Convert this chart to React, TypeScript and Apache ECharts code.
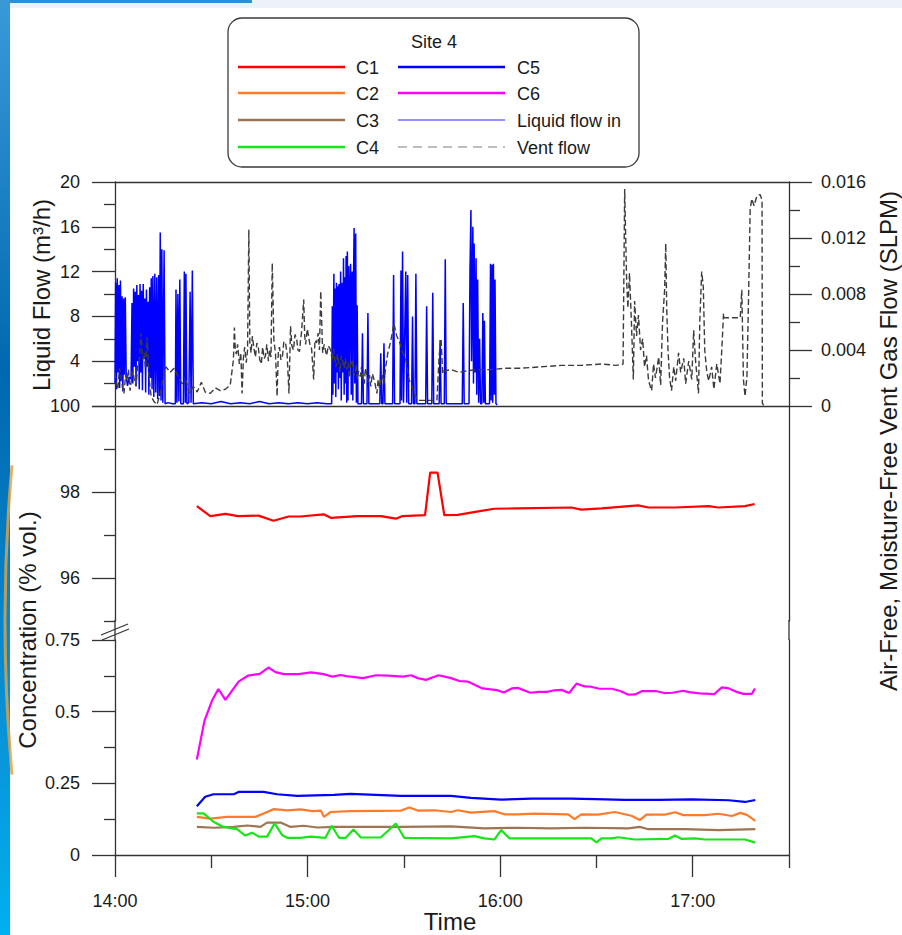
import React, { useEffect, useRef } from 'react';
import * as echarts from 'echarts';

// ---------- axis ticks / labels (time in minutes after 14:00) ----------
const hourTicks = [0, 60, 120, 180];
const hourLabels = ['14:00', '15:00', '16:00', '17:00'];
const halfHourTicks = [30, 90, 150, 210];
const upperConcMajor = [96, 98, 100];
const upperConcMinor = [95, 97, 99];

// ---------- top panel: liquid flow in (m3/h) ----------
const liquidTime = [
  0.0, 0.2, 0.45, 0.7, 0.95, 1.2, 1.45, 1.7, 1.95, 2.2, 2.45, 2.7, 2.95, 3.2, 3.5, 3.9, 4.4, 5.0, 5.3, 5.55,
  5.8, 6.05, 6.3, 6.55, 6.8, 7.05, 7.3, 7.55, 7.8, 8.05, 8.3, 8.55, 8.8, 9.05, 9.3, 9.55, 9.8, 10.05, 10.3, 10.55,
  10.8, 11.05, 11.3, 11.55, 11.8, 12.1, 12.4, 12.7, 13.0, 13.3, 13.6, 13.85, 14.1, 14.35, 14.6, 14.9, 15.3, 15.6,
  16.5, 18.0, 18.8, 19.0, 19.3, 19.6, 19.9, 20.2, 20.5, 21.3, 21.6, 21.9, 22.1, 22.4, 23.0, 23.4, 23.7, 24.1, 24.4,
  27.0, 30.0, 33.0, 36.0, 39.0, 42.0, 45.0, 48.0, 51.0, 54.0, 57.0, 60.0, 63.0, 66.0, 67.5,
  67.7, 67.9, 68.2, 68.4, 68.6, 68.8, 69.0, 69.2, 69.4, 69.6, 69.8, 70.0, 70.3, 70.5, 70.8, 71.0, 71.2, 71.4, 71.6,
  71.8, 72.0, 72.2, 72.4, 72.6, 72.8, 73.0, 73.2, 73.4, 73.6, 73.9, 74.1, 74.3, 74.5, 74.7, 75.0, 75.2, 75.45, 75.7,
  76.8, 77.1, 77.4, 78.5, 78.8, 79.1, 82.5, 82.8, 83.1, 83.5, 83.8, 84.1, 86.5, 86.8, 87.1, 88.8, 89.1, 89.3, 89.6,
  89.9, 90.6, 90.9, 91.2, 91.5, 92.4, 92.7, 93.0, 93.45, 93.75, 94.05, 96.8, 97.1, 97.4, 98.7, 99.0, 99.3, 101.0,
  101.3, 101.6, 102.6, 102.9, 103.2, 108.2, 108.5, 108.8, 110.3, 110.6, 110.9, 111.1, 111.5, 111.7, 111.9, 112.2,
  112.5, 112.7, 113.0, 113.3, 113.6, 113.9, 114.3, 114.6, 114.9, 115.1, 115.4, 116.7, 117.0, 117.2, 117.5, 117.7,
  117.9, 118.2, 118.4, 118.7, 119.1,
];
const liquidFlow = [
  2.0, 11.0, 1.5, 11.4, 3.0, 10.8, 1.6, 11.2, 2.2, 9.8, 1.3, 9.6, 2.8, 9.7, 2.6, 1.8, 2.6, 2.4, 9.2, 2.0,
  10.5, 3.5, 10.2, 1.8, 10.8, 4.0, 9.9, 1.5, 10.9, 3.0, 10.3, 1.4, 10.9, 4.2, 9.6, 1.2, 10.4, 3.5, 9.3, 1.0,
  10.6, 2.5, 11.4, 1.5, 11.6, 0.8, 11.8, 1.2, 11.5, 0.6, 11.7, 0.9, 15.5, 0.5, 14.0, 0.3, 13.9, 0.2,
  0.3, 0.2, 0.2, 10.4, 0.3, 10.0, 0.4, 11.3, 0.2, 0.2, 12.0, 0.3, 11.8, 0.2, 0.3, 10.2, 0.3, 12.1, 0.2,
  0.3, 0.2, 0.4, 0.2, 0.3, 0.2, 0.4, 0.2, 0.3, 0.2, 0.3, 0.2, 0.3, 0.2, 0.2,
  8.9, 1.0, 11.8, 2.0, 10.5, 0.8, 11.0, 3.0, 10.7, 1.5, 10.9, 2.5, 12.0, 0.5, 11.0, 3.0, 13.2, 1.0, 11.5,
  2.0, 13.4, 0.3, 13.8, 0.5, 12.5, 3.0, 10.5, 12.7, 1.0, 12.0, 0.5, 11.0, 15.9, 2.0, 15.4, 0.3, 9.0, 0.2,
  0.2, 6.5, 0.2, 0.2, 8.3, 0.2, 0.2, 4.7, 0.2, 0.2, 5.6, 0.2, 0.2, 11.7, 0.2, 0.2, 12.1, 0.5, 13.8,
  0.3, 12.0, 0.3, 11.7, 0.2, 0.2, 8.0, 0.2, 0.2, 11.8, 0.2, 0.2, 8.9, 0.2, 0.2, 10.1, 0.2, 0.2,
  5.9, 0.2, 0.2, 13.1, 0.2, 0.2, 9.2, 0.2, 0.2, 12.0, 17.5, 4.0, 16.0, 2.0, 14.5, 3.0,
  13.2, 1.0, 11.3, 0.3, 6.0, 0.2, 0.2, 8.3, 0.3, 7.6, 0.2, 0.2, 12.7, 0.5, 12.6, 0.3,
  12.7, 1.0, 11.3, 0.2, 0.1,
];

// ---------- top panel: vent gas flow (SLPM) ----------
const ventTime = [
  0.0, 0.45, 0.9, 1.4, 1.9, 2.35, 2.8, 3.3, 3.75, 4.2, 4.7, 5.15, 5.6, 6.1, 6.6, 7.0, 7.5, 8.1, 8.6, 9.1,
  9.5, 10.0, 10.6, 11.25, 12.2, 13.1, 14.1, 15.0, 15.9, 17.2, 18.4, 19.7, 20.9, 22.2, 23.1, 24.4, 25.6, 26.9, 28.1, 29.7,
  31.25, 32.8, 34.4, 35.9,
  36.9, 37.2, 37.5, 37.8, 38.2, 38.75, 39.2, 39.6, 40.0, 40.4, 40.9, 41.3, 41.7, 42.0, 42.4, 42.8, 43.3, 43.75, 44.2, 44.7,
  45.1, 45.6, 46.0, 46.5, 46.9, 47.3, 47.8, 48.2, 48.6, 49.0, 49.5, 50.0, 50.5, 50.9, 51.25, 51.7, 52.2, 52.6, 53.1, 53.6,
  54.2, 54.7, 55.1, 55.6, 56.1, 56.6, 57.0, 57.5, 57.8, 58.1, 58.8, 59.1, 59.4, 59.9, 60.3, 60.8, 61.25, 61.9, 62.3, 62.8,
  63.3, 63.7, 64.1, 64.7, 65.2, 65.9, 66.5, 67.2,
  67.7, 68.1, 68.4, 68.9, 69.3, 69.7, 70.1, 70.5, 70.9, 71.4, 71.8, 72.2, 72.7, 73.0, 73.4, 73.9, 74.3, 74.7, 75.2, 75.5,
  75.9, 76.4, 76.8, 77.2, 77.7, 78.0, 78.4, 78.9, 79.3, 79.7, 80.2, 80.6, 81.1, 81.6, 82.0, 82.4, 82.8, 83.3, 83.75, 84.3,
  85.0, 85.9, 86.9, 87.8, 88.75, 89.7, 90.6, 91.6, 92.5, 93.4, 94.4, 97.2, 100.3, 101.0, 101.6,
  102.1, 102.5, 104.7, 107.2, 109.4, 112.5, 117.2, 121.9, 126.6, 132.8, 139.1, 145.3, 151.6, 156.25, 158.3, 158.8, 159.4, 159.8, 160.3, 160.9,
  161.5, 161.9, 162.5, 163.1, 163.75, 164.4, 165.0, 165.6, 166.25, 167.2, 167.8, 168.4, 169.4, 170.0, 170.6, 171.25, 171.6, 171.9, 172.3, 172.8,
  173.4, 174.1, 174.7, 175.6, 176.25, 177.2, 177.8, 178.75, 179.7, 180.3, 180.9, 181.8, 182.2, 182.8, 183.3, 183.75, 184.4, 185.0, 185.9, 186.6,
  187.5, 188.5, 189.1, 189.6, 189.8, 194.8, 195.3, 195.8, 196.3, 196.9, 197.4, 197.9, 198.4, 199.1, 200.0, 201.0, 201.6, 201.7, 202.2,
];
const ventFlow = [
  0.0024, 0.0016, 0.0012, 0.0027, 0.0021, 0.0013, 0.0009, 0.0022, 0.0018, 0.0026, 0.0011, 0.0019, 0.0025, 0.0017, 0.0014, 0.0028, 0.003, 0.0052, 0.0033, 0.0038,
  0.0027, 0.0049, 0.002, 0.0007, 0.0003, 0.0001, 0.0009, 0.0021, 0.0028, 0.0024, 0.0027, 0.0021, 0.0016, 0.0018, 0.0009, 0.0014, 0.001, 0.0017, 0.001, 0.0009,
  0.0013, 0.0011, 0.0012, 0.0015,
  0.0033, 0.0056, 0.004, 0.0037, 0.0044, 0.003, 0.0038, 0.0009, 0.0034, 0.0042, 0.0031, 0.004, 0.0126, 0.0046, 0.0038, 0.005, 0.0041, 0.0035, 0.0045, 0.0041,
  0.0033, 0.003, 0.0042, 0.0034, 0.0036, 0.0044, 0.0032, 0.004, 0.0035, 0.0102, 0.0047, 0.0038, 0.0007, 0.004, 0.0042, 0.0033, 0.0036, 0.0046, 0.0045, 0.0038,
  0.0009, 0.0057, 0.0043, 0.004, 0.0051, 0.0048, 0.004, 0.0039, 0.0047, 0.0052, 0.0076, 0.005, 0.0044, 0.0055, 0.005, 0.0043, 0.0041, 0.0019, 0.0047, 0.0045,
  0.0052, 0.004, 0.0082, 0.0038, 0.0044, 0.0036, 0.0043, 0.004,
  0.0032, 0.0041, 0.0035, 0.0028, 0.0037, 0.0031, 0.0024, 0.0036, 0.0033, 0.0027, 0.0034, 0.0026, 0.0031, 0.002, 0.0029, 0.0033, 0.0024, 0.0022, 0.003, 0.0019,
  0.0025, 0.0021, 0.0028, 0.0019, 0.0016, 0.0027, 0.0023, 0.0017, 0.0022, 0.0014, 0.0023, 0.002, 0.0015, 0.0009, 0.0019, 0.0013, 0.0018, 0.0022, 0.0016, 0.0027,
  0.0038, 0.0046, 0.0059, 0.005, 0.0045, 0.0038, 0.0033, 0.0019, 0.0014, 0.0008, 0.0004, 0.0004, 0.0004, 0.0036, 0.0048,
  0.0023, 0.0025, 0.0026, 0.0024, 0.0025, 0.0026, 0.0026, 0.0027, 0.0027, 0.0028, 0.0029, 0.0029, 0.003, 0.0029, 0.003, 0.0155, 0.009, 0.007, 0.0095, 0.006,
  0.0019, 0.0075, 0.005, 0.0065, 0.004, 0.0048, 0.0028, 0.0036, 0.0018, 0.0011, 0.003, 0.002, 0.0035, 0.0015, 0.006, 0.0083, 0.0116, 0.007, 0.004, 0.002,
  0.0011, 0.0028, 0.0018, 0.0038, 0.0024, 0.0034, 0.0016, 0.0032, 0.0019, 0.0054, 0.0032, 0.0009, 0.006, 0.0096, 0.0085, 0.004, 0.0024, 0.0018, 0.0028, 0.0012,
  0.003, 0.0016, 0.0042, 0.0066, 0.0063, 0.0063, 0.0083, 0.0019, 0.0007, 0.0021, 0.0078, 0.014, 0.0148, 0.0143, 0.015, 0.0151, 0.0147, 0.0002, 0.0,
];

// ---------- bottom panel: concentrations (% vol.) ----------
const c1Time = [25.5, 29.7, 34.4, 38.4, 44.7, 49.4, 54.1, 57.8, 65.0, 67.2, 75.6, 82.8, 87.5, 89.6, 96.6, 98.2, 100.5, 102.6, 106.8, 114.1, 118.2, 125.5, 142.2, 145.3, 151.6, 163.0, 166.2, 174.5, 184.9, 188.0, 196.3, 199.3];
const c1Values = [97.67, 97.44, 97.49, 97.44, 97.45, 97.33, 97.43, 97.43, 97.48, 97.4, 97.44, 97.44, 97.38, 97.44, 97.46, 98.45, 98.45, 97.46, 97.47, 97.56, 97.61, 97.62, 97.64, 97.59, 97.62, 97.69, 97.64, 97.64, 97.67, 97.64, 97.67, 97.72];

const c2Time = [25.5, 29.7, 34.9, 43.75, 46.3, 49.5, 53.7, 57.8, 61.5, 64.1, 65.1, 67.2, 73.4, 89.1, 91.7, 94.3, 99.5, 104.7, 106.8, 110.9, 118.2, 121.3, 125.5, 130.7, 141.2, 143.2, 145.3, 150.5, 155.7, 160.9, 163.5, 165.6, 171.3, 174.5, 177.1, 183.8, 188.0, 192.2, 194.8, 196.9, 199.5];
const c2Values = [0.133, 0.127, 0.133, 0.133, 0.145, 0.16, 0.156, 0.159, 0.153, 0.155, 0.133, 0.15, 0.153, 0.155, 0.166, 0.155, 0.156, 0.15, 0.156, 0.148, 0.153, 0.142, 0.142, 0.144, 0.142, 0.125, 0.142, 0.141, 0.15, 0.137, 0.122, 0.141, 0.141, 0.149, 0.139, 0.139, 0.144, 0.136, 0.147, 0.14, 0.119];

const c3Time = [25.5, 30.7, 37.0, 41.2, 45.3, 47.4, 51.6, 54.7, 58.8, 63.0, 68.2, 89.1, 104.7, 115.1, 125.5, 135.9, 146.3, 159.9, 163.5, 166.2, 177.6, 188.0, 199.5];
const c3Values = [0.098, 0.095, 0.098, 0.103, 0.098, 0.113, 0.113, 0.098, 0.102, 0.096, 0.098, 0.098, 0.1, 0.093, 0.095, 0.093, 0.095, 0.093, 0.098, 0.09, 0.09, 0.087, 0.09];

const c4Time = [25.5, 27.6, 30.7, 33.8, 38.0, 40.6, 42.7, 44.8, 47.4, 49.7, 52.1, 53.7, 57.8, 60.9, 65.6, 67.5, 69.8, 71.9, 74.3, 76.6, 82.8, 87.5, 90.1, 104.7, 112.0, 115.1, 118.2, 120.3, 122.9, 135.9, 148.4, 150.0, 151.6, 154.7, 156.8, 162.0, 172.4, 174.5, 176.6, 180.7, 183.8, 196.3, 199.5];
const c4Values = [0.145, 0.145, 0.116, 0.098, 0.09, 0.068, 0.078, 0.064, 0.064, 0.11, 0.069, 0.06, 0.06, 0.064, 0.06, 0.102, 0.06, 0.06, 0.089, 0.061, 0.061, 0.11, 0.06, 0.058, 0.066, 0.058, 0.054, 0.087, 0.058, 0.058, 0.058, 0.044, 0.058, 0.058, 0.062, 0.054, 0.056, 0.068, 0.056, 0.058, 0.054, 0.054, 0.043];

const c5Time = [25.5, 28.1, 30.7, 37.0, 38.5, 46.3, 50.5, 56.8, 68.2, 73.4, 89.1, 104.7, 110.9, 120.3, 129.7, 142.2, 149.5, 158.8, 169.3, 179.7, 191.2, 196.3, 199.5];
const c5Values = [0.17, 0.203, 0.212, 0.212, 0.22, 0.22, 0.212, 0.206, 0.21, 0.213, 0.206, 0.206, 0.199, 0.193, 0.197, 0.197, 0.195, 0.192, 0.192, 0.194, 0.191, 0.185, 0.192];

const c6Time = [25.5, 27.9, 30.2, 32.2, 34.4, 38.5, 41.5, 45.1, 47.8, 50.0, 52.6, 57.2, 61.1, 65.0, 67.8, 70.2, 72.1, 77.3, 81.3, 85.2, 89.7, 92.3, 94.3, 96.9, 100.8, 104.7, 107.3, 109.9, 114.5, 119.0, 121.2, 123.6, 125.5, 129.4, 132.0, 134.6, 136.6, 139.2, 141.5, 143.8, 146.3, 148.3, 150.9, 154.8, 157.4, 160.0, 162.0, 164.3, 168.5, 171.1, 173.7, 177.0, 178.9, 182.2, 186.7, 189.1, 191.3, 193.9, 195.8, 198.4, 199.4];
const c6Values = [0.333, 0.469, 0.538, 0.579, 0.541, 0.605, 0.626, 0.632, 0.654, 0.638, 0.631, 0.631, 0.637, 0.631, 0.622, 0.628, 0.624, 0.617, 0.627, 0.626, 0.622, 0.627, 0.617, 0.611, 0.627, 0.617, 0.607, 0.605, 0.581, 0.575, 0.567, 0.581, 0.583, 0.566, 0.569, 0.569, 0.574, 0.576, 0.565, 0.598, 0.588, 0.587, 0.58, 0.58, 0.572, 0.559, 0.56, 0.572, 0.572, 0.565, 0.566, 0.573, 0.568, 0.564, 0.561, 0.585, 0.581, 0.568, 0.562, 0.562, 0.581];

// ---------- styling ----------
const FONT = "'Liberation Sans', Arial, Helvetica, sans-serif";
const TXT = '#1a1a1a';
const AX = { color: '#333', width: 1.3 };
const COLORS = {
  C1: '#ff0000', C2: '#ff7b2a', C3: '#9e7452', C4: '#16e616', C5: '#0000ff', C6: '#ff00ff',
  liquid: '#0000ff', vent: '#3c3c3c',
};

const pairs = (t: number[], v: number[]) => t.map((x, i) => [x, v[i]]);

const labelStyle = { fontSize: 18, color: TXT, fontFamily: FONT };
const noSplit = { show: false };

function lineSeries(name: string, xi: number, yi: number, data: number[][], color: string, width: number, extra: any = {}) {
  return {
    name, type: 'line', xAxisIndex: xi, yAxisIndex: yi, data,
    showSymbol: false, symbol: 'none', clip: true,
    lineStyle: { color, width, ...extra }, itemStyle: { color },
    emphasis: { disabled: true },
  };
}

function buildOption(): any {
  const legendRows = [67, 93, 120, 147];
  const legendLeft = [
    { name: 'C1', color: COLORS.C1, w: 2.6 },
    { name: 'C2', color: COLORS.C2, w: 2.6 },
    { name: 'C3', color: COLORS.C3, w: 2.6 },
    { name: 'C4', color: COLORS.C4, w: 2.6 },
  ];
  const legendRight = [
    { name: 'C5', color: COLORS.C5, w: 2.6 },
    { name: 'C6', color: COLORS.C6, w: 2.6 },
    { name: 'Liquid flow in', color: '#6b6bff', w: 1.3 },
    { name: 'Vent flow', color: '#bdbdbd', w: 2, dash: [9, 6] },
  ];
  const textStyle = (text: string, size: number, align = 'left') => ({
    text, font: `${size}px ${FONT}`, fill: TXT, align, verticalAlign: 'middle',
    textAlign: align, textVerticalAlign: 'middle',
  });
  const legendEls: any[] = [];
  legendLeft.forEach((it, i) => {
    legendEls.push({ type: 'line', shape: { x1: 238, y1: legendRows[i], x2: 345, y2: legendRows[i] }, style: { stroke: it.color, lineWidth: it.w } });
    legendEls.push({ type: 'text', x: 356, y: legendRows[i] + 1, style: textStyle(it.name, 18) });
  });
  legendRight.forEach((it: any, i) => {
    legendEls.push({ type: 'line', shape: { x1: 398, y1: legendRows[i], x2: 505, y2: legendRows[i] }, style: { stroke: it.color, lineWidth: it.w, lineDash: it.dash } });
    legendEls.push({ type: 'text', x: 517, y: legendRows[i] + 1, style: textStyle(it.name, 18) });
  });

  const graphic: any[] = [
    // slide decorations around the figure
    { type: 'rect', silent: true, shape: { x: 0, y: 0, width: 902, height: 8 }, style: { fill: '#edf2f8' } },
    { type: 'rect', silent: true, shape: { x: 0, y: 0, width: 252, height: 3 }, style: { fill: '#2b8fd6' } },
    {
      type: 'rect', silent: true, shape: { x: 0, y: 0, width: 10, height: 935 },
      style: {
        fill: new echarts.graphic.LinearGradient(0, 0, 0, 1, [
          { offset: 0, color: '#3a9ad8' }, { offset: 0.4, color: '#0068b0' },
          { offset: 0.75, color: '#0a8fd4' }, { offset: 1, color: '#00b0ef' },
        ]),
      },
    },
    { type: 'arc', silent: true, shape: { cx: 1725, cy: 620, r: 1720, startAngle: Math.PI - 0.09, endAngle: Math.PI + 0.09 }, style: { stroke: '#d9a24a', lineWidth: 3, fill: null, opacity: 0.85 } },
    // legend box
    { type: 'rect', shape: { x: 228, y: 18, width: 411, height: 149, r: 14 }, style: { fill: '#fff', stroke: '#3a3a3a', lineWidth: 1.3 } },
    { type: 'text', x: 434, y: 42, style: textStyle('Site 4', 18, 'center') },
    ...legendEls,
    // axis titles
    { type: 'text', x: 41, y: 295, rotation: Math.PI / 2, style: textStyle('Liquid Flow (m³/h)', 24, 'center') },
    { type: 'text', x: 27, y: 630, rotation: Math.PI / 2, style: textStyle('Concentration (% vol.)', 24, 'center') },
    { type: 'text', x: 888, y: 441, rotation: Math.PI / 2, style: textStyle('Air-Free, Moisture-Free Vent Gas Flow (SLPM)', 24, 'center') },
    { type: 'text', x: 450, y: 921, style: textStyle('Time', 24, 'center') },
    // axis lines across the break
    { type: 'line', shape: { x1: 115, y1: 620, x2: 115, y2: 640 }, style: { stroke: AX.color, lineWidth: AX.width } },
    { type: 'line', shape: { x1: 789, y1: 620, x2: 789, y2: 640 }, style: { stroke: AX.color, lineWidth: AX.width } },
    // break marks
    { type: 'line', shape: { x1: 101, y1: 635, x2: 128, y2: 624 }, style: { stroke: AX.color, lineWidth: 1.2 } },
    { type: 'line', shape: { x1: 102, y1: 640, x2: 129, y2: 629 }, style: { stroke: AX.color, lineWidth: 1.2 } },
  ];

  const axisLine = { show: true, onZero: false, lineStyle: AX };
  const xBase = { type: 'value', min: 0, max: 210, splitLine: noSplit, minorSplitLine: noSplit };
  const yBase = { type: 'value', splitLine: noSplit, minorSplitLine: noSplit };

  return {
    animation: false,
    backgroundColor: '#ffffff',
    grid: [
      { left: 115, top: 182, width: 674, height: 224, containLabel: false },
      { left: 115, top: 406, width: 674, height: 215, containLabel: false },
      { left: 115, top: 640, width: 674, height: 215, containLabel: false },
    ],
    xAxis: [
      { ...xBase, gridIndex: 0, position: 'bottom', axisLine, axisTick: { show: false }, axisLabel: { show: false } },
      { ...xBase, gridIndex: 0, position: 'top', axisLine, axisTick: { show: false }, axisLabel: { show: false } },
      { ...xBase, gridIndex: 1, show: false },
      {
        ...xBase, gridIndex: 2, position: 'bottom', axisLine,
        axisTick: { show: true, customValues: hourTicks, length: 22, lineStyle: AX },
        axisLabel: {
          show: true, customValues: hourTicks, margin: 37, ...labelStyle,
          formatter: (v: number) => hourLabels[hourTicks.indexOf(v)] ?? '',
        },
      },
      {
        ...xBase, gridIndex: 2, position: 'bottom', axisLine: { show: false, onZero: false },
        axisTick: { show: true, customValues: halfHourTicks, length: 13, lineStyle: AX },
        axisLabel: { show: false },
      },
    ],
    yAxis: [
      {
        ...yBase, gridIndex: 0, position: 'left', min: 0, max: 20, interval: 4, axisLine,
        axisTick: { show: true, length: 23, lineStyle: AX },
        minorTick: { show: true, splitNumber: 2, length: 11, lineStyle: AX },
        axisLabel: { margin: 35, ...labelStyle, formatter: (v: number) => (v === 0 ? '' : String(v)) },
      },
      {
        ...yBase, gridIndex: 0, position: 'right', min: 0, max: 0.016, interval: 0.004, axisLine,
        axisTick: { show: true, length: 23, lineStyle: AX },
        minorTick: { show: true, splitNumber: 2, length: 11, lineStyle: AX },
        axisLabel: { margin: 32, ...labelStyle },
      },
      {
        ...yBase, gridIndex: 1, position: 'left', min: 95, max: 100, axisLine,
        axisTick: { show: true, customValues: upperConcMajor, length: 23, lineStyle: AX },
        axisLabel: { show: true, customValues: upperConcMajor, margin: 35, ...labelStyle },
      },
      {
        ...yBase, gridIndex: 1, position: 'left', min: 95, max: 100, axisLine: { show: false, onZero: false },
        axisTick: { show: true, customValues: upperConcMinor, length: 11, lineStyle: AX },
        axisLabel: { show: false },
      },
      {
        ...yBase, gridIndex: 1, position: 'right', min: 95, max: 100, axisLine,
        axisTick: { show: false }, axisLabel: { show: false },
      },
      {
        ...yBase, gridIndex: 2, position: 'left', min: 0, max: 0.75, interval: 0.25, axisLine,
        axisTick: { show: true, length: 23, lineStyle: AX },
        minorTick: { show: true, splitNumber: 2, length: 11, lineStyle: AX },
        axisLabel: { margin: 35, ...labelStyle },
      },
      {
        ...yBase, gridIndex: 2, position: 'right', min: 0, max: 0.75, axisLine,
        axisTick: { show: false }, axisLabel: { show: false },
      },
    ],
    series: [
      lineSeries('Liquid flow in', 0, 0, pairs(liquidTime, liquidFlow), COLORS.liquid, 1.5),
      lineSeries('Vent flow', 0, 1, pairs(ventTime, ventFlow), COLORS.vent, 1.4, { type: [6, 3] }),
      lineSeries('C1', 2, 2, pairs(c1Time, c1Values), COLORS.C1, 2.2),
      lineSeries('C2', 3, 5, pairs(c2Time, c2Values), COLORS.C2, 2.2),
      lineSeries('C3', 3, 5, pairs(c3Time, c3Values), COLORS.C3, 2.2),
      lineSeries('C4', 3, 5, pairs(c4Time, c4Values), COLORS.C4, 2.2),
      lineSeries('C5', 3, 5, pairs(c5Time, c5Values), COLORS.C5, 2.2),
      lineSeries('C6', 3, 5, pairs(c6Time, c6Values), COLORS.C6, 2.2),
    ],
    graphic,
  };
}

export default function App() {
  const ref = useRef<HTMLDivElement>(null);
  useEffect(() => {
    if (!ref.current) return;
    const chart = echarts.init(ref.current, null, { renderer: 'svg' });
    chart.setOption(buildOption());
    return () => chart.dispose();
  }, []);
  return (
    <div
      ref={ref}
      style={{ position: 'absolute', left: 0, top: 0, width: 902, height: 935, background: '#fff' }}
    />
  );
}
